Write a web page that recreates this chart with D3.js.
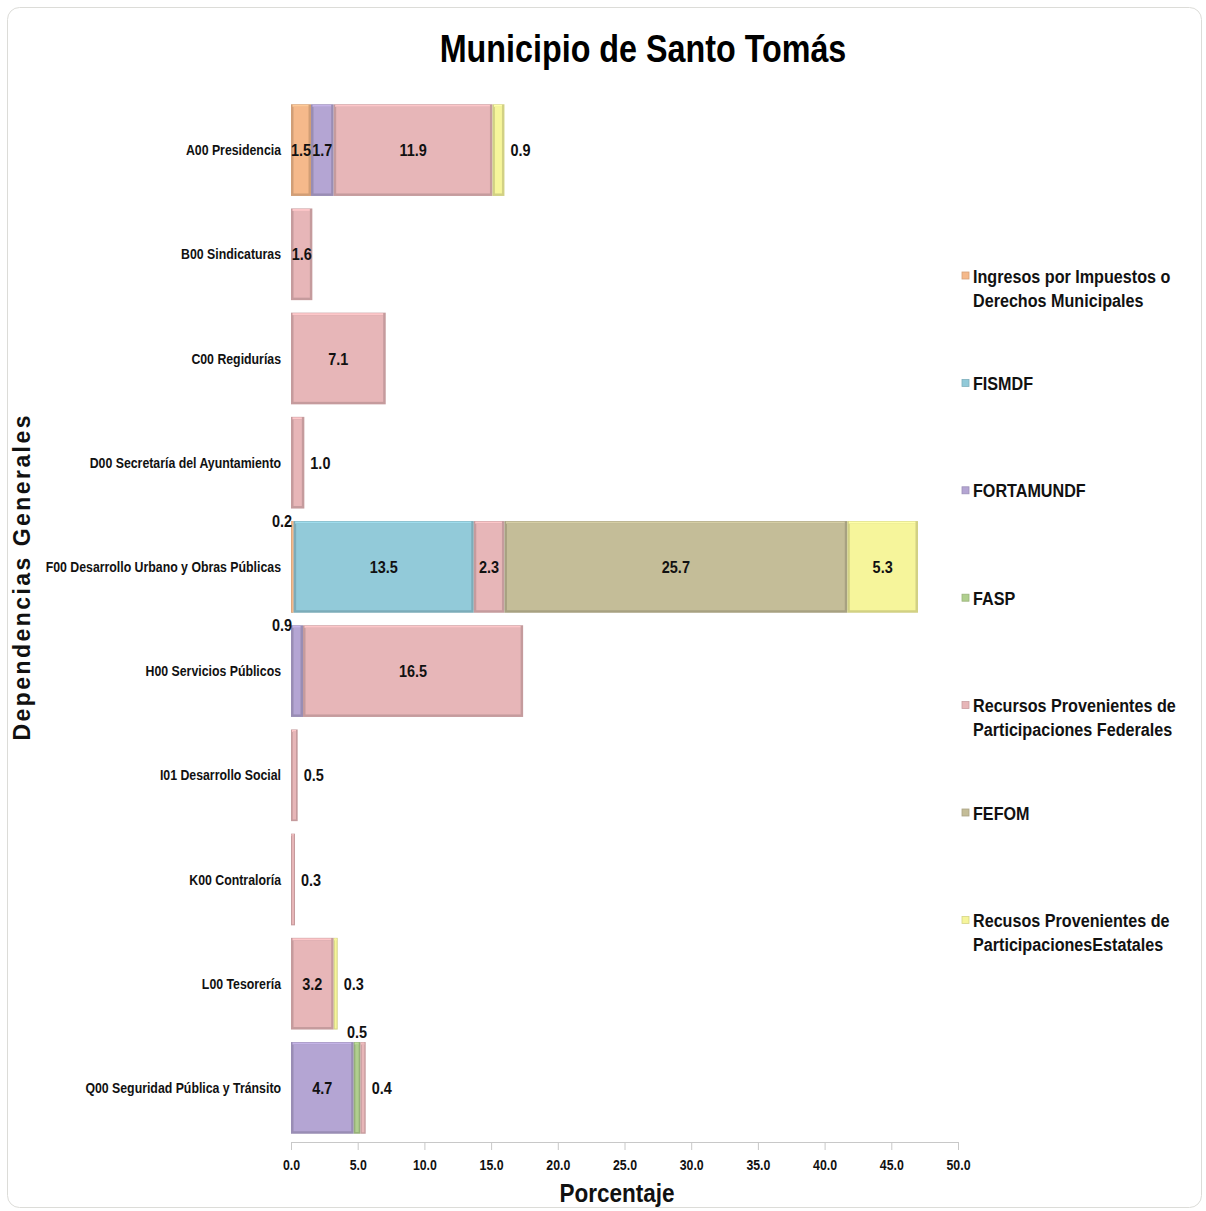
<!DOCTYPE html>
<html><head><meta charset="utf-8">
<script src="https://cdn.jsdelivr.net/npm/d3@7"></script>
<style>
body{margin:0;background:#fff;}
svg{display:block;}
</style></head>
<body>
<svg id="chart" width="1206" height="1211"></svg>
<script>
const categories = ["A00 Presidencia","B00 Sindicaturas","C00 Regidurías","D00 Secretaría del Ayuntamiento","F00 Desarrollo Urbano y Obras Públicas","H00 Servicios Públicos","I01 Desarrollo Social","K00 Contraloría","L00 Tesorería","Q00 Seguridad Pública y Tránsito"];
const seriesNames = ["Ingresos por Impuestos o|Derechos Municipales","FISMDF","FORTAMUNDF","FASP","Recursos Provenientes de|Participaciones Federales","FEFOM","Recusos Provenientes de|ParticipacionesEstatales"];
const seriesColors = ["#f5b98b","#92cad9","#b4a5d3","#b0cf8e","#e7b6b8","#c4bd98","#f6f59b"];
const ingresos   = [1.5,0,0,0,0.2,0,0,0,0,0];
const fismdf     = [0,0,0,0,13.5,0,0,0,0,0];
const fortamundf = [1.7,0,0,0,0,0.9,0,0,0,4.7];
const fasp       = [0,0,0,0,0,0,0,0,0,0.5];
const recFed     = [11.9,1.6,7.1,1.0,2.3,16.5,0.5,0.3,3.2,0.4];
const fefom      = [0,0,0,0,25.7,0,0,0,0,0];
const recEst     = [0.9,0,0,0,5.3,0,0,0,0.3,0];
const xTicks = [0,5,10,15,20,25,30,35,40,45,50];

const seriesValues = [ingresos,fismdf,fortamundf,fasp,recFed,fefom,recEst];
const FONT = "'Liberation Sans',Arial,sans-serif";
const SX = 0.85;
const svg = d3.select("#chart");

// condensed text helper
function ctext(parent, x, y, str, size, anchor, dy) {
  return parent.append("text")
    .attr("transform", `translate(${x},${y}) scale(${SX},1)`)
    .attr("x",0).attr("y",0).attr("dy", dy || "0")
    .attr("text-anchor", anchor || "start")
    .style("font-family",FONT).style("font-weight","bold").style("font-size",size+"px")
    .attr("fill","#111").text(str);
}

// frame
svg.append("rect").attr("x",7.5).attr("y",7.5).attr("width",1194).attr("height",1200)
  .attr("rx",12).attr("fill","#fff").attr("stroke","#dcdcd8").attr("stroke-width",1);

const x = d3.scaleLinear().domain([0,50]).range([291,958]);
const y = d3.scaleBand().domain(categories).range([98,1140]).paddingInner(0.12).paddingOuter(0.06);

// title
ctext(svg, 643, 62, "Municipio de Santo Tomás", 38, "middle").attr("fill","#000");

// stack
const rows = categories.map((c,i)=>{ const o={cat:c}; seriesValues.forEach((s,k)=>o[k]=s[i]); return o; });
const stack = d3.stack().keys(seriesValues.map((_,k)=>k))(rows);

const g = svg.append("g");
stack.forEach((layer,k)=>{
  const col = seriesColors[k];
  const dark = d3.color(col).darker(0.45).formatHex();
  const light = d3.color(col).brighter(0.25).formatHex();
  layer.forEach((d,i)=>{
    if (seriesValues[k][i] <= 0) return;
    const x0 = x(d[0]), x1 = x(d[1]), yy = y(categories[i]), h = y.bandwidth();
    const w = x1 - x0;
    g.append("rect").attr("x",x0).attr("y",yy).attr("width",w).attr("height",h).attr("fill",dark);
    const ins = Math.min(2.5, w/4);
    g.append("rect").attr("x",x0+ins*0.6).attr("y",yy+0.5).attr("width",Math.max(0,w-ins*1.6)).attr("height",2).attr("fill",light);
    g.append("rect").attr("x",x0+ins).attr("y",yy+ins).attr("width",Math.max(0,w-2*ins)).attr("height",h-2*ins).attr("fill",col);
  });
});

// labels
const lbl = svg.append("g");
const fmt = d3.format(".1f");
categories.forEach((c,i)=>{
  const segs = [];
  stack.forEach((layer,k)=>{ if (seriesValues[k][i]>0) segs.push({k,v:seriesValues[k][i],a:layer[i][0],b:layer[i][1]}); });
  segs.forEach((s,j)=>{
    const w = x(s.b)-x(s.a);
    const txt = fmt(s.v);
    const tw = txt.length*6.6;
    const cy = y(c)+y.bandwidth()/2;
    const top = y(c);
    if (w >= tw-3) {
      ctext(lbl,(x(s.a)+x(s.b))/2,cy,txt,17,"middle","0.36em");
    } else if (j === segs.length-1) {
      ctext(lbl,x(s.b)+6,cy,txt,17,"start","0.36em");
    } else if (j === 0) {
      ctext(lbl,x(0)+1,top+6,txt,17,"end");
    } else {
      ctext(lbl,(x(s.a)+x(s.b))/2,top-4,txt,17,"middle");
    }
  });
});

// y category labels
const cg = svg.append("g");
categories.forEach(c=>ctext(cg,281,y(c)+y.bandwidth()/2,c,14.5,"end","0.35em"));

// x axis
const xAxis = d3.axisBottom(x).tickValues(xTicks).tickFormat(fmt).tickSize(8).tickSizeOuter(0);
const ax = svg.append("g").attr("transform","translate(0,1142)").call(xAxis);
ax.select(".domain").attr("stroke","#c8c8c8");
ax.selectAll(".tick line").attr("stroke","#c8c8c8");
ax.selectAll(".tick text").attr("y",0).attr("dy","0.35em").attr("transform",`translate(0,23) scale(${SX},1)`)
  .style("font-family",FONT).style("font-weight","bold").style("font-size","14.5px").attr("fill","#111");

ctext(svg,617,1202,"Porcentaje",26.5,"middle");

svg.append("text").attr("transform","translate(30,578) rotate(-90)").attr("text-anchor","middle")
  .style("font-family",FONT).style("font-weight","bold").style("font-size","23px")
  .attr("textLength",325).attr("lengthAdjust","spacing").attr("fill","#111").text("Dependencias Generales");

// legend
const leg = svg.append("g");
seriesNames.forEach((n,k)=>{
  const yy = 276 + k*107.4;
  leg.append("rect").attr("x",962).attr("y",yy-4).attr("width",7).attr("height",7).attr("fill",seriesColors[k]).attr("stroke",d3.color(seriesColors[k]).darker(0.4)).attr("stroke-width",0.8);
  n.split("|").forEach((line,li)=>{
    ctext(leg,973,yy+li*24,line,19,"start","0.35em");
  });
});
</script>
</body></html>
